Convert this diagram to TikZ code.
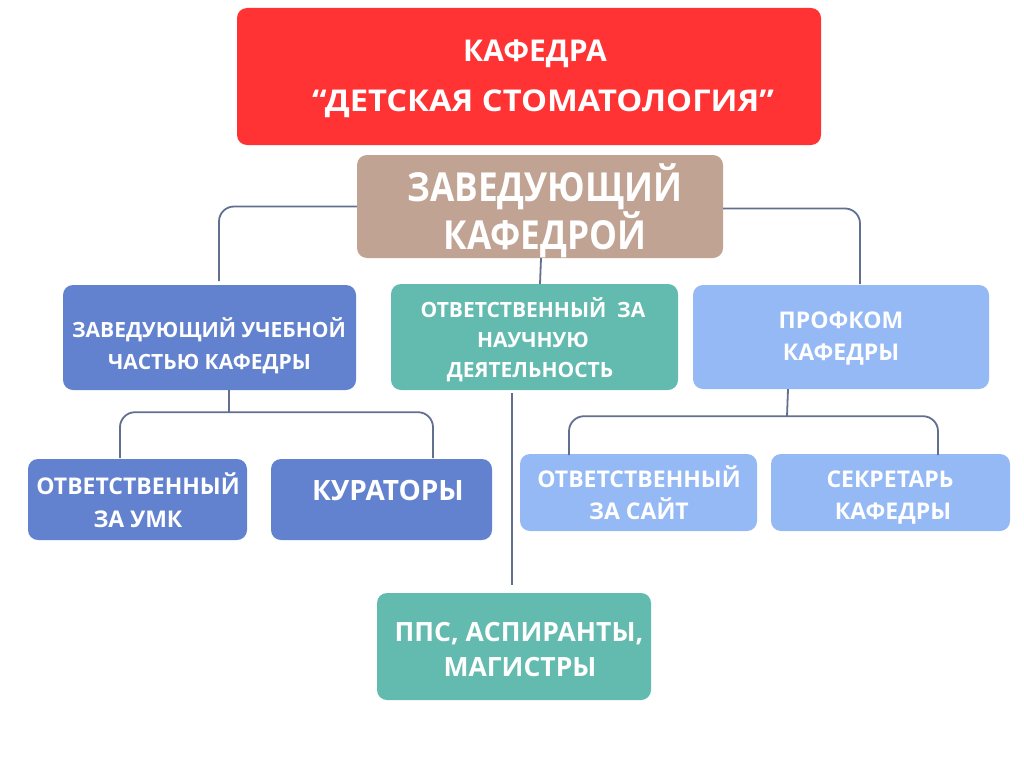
\documentclass[tikz,border=0pt]{standalone}
\usepackage{fontspec}
\setmainfont{Open Sans}[BoldFont={* Bold}]
\newfontfamily\condfont{Open Sans}[BoldFont={* Bold},FakeStretch=0.88]
\newfontfamily\widefont{Open Sans}[BoldFont={* Bold},FakeStretch=1.09]
\usetikzlibrary{calc}
\definecolor{cred}{HTML}{FF3333}
\definecolor{cbrown}{HTML}{C0A393}
\definecolor{cblue}{HTML}{6282CF}
\definecolor{cteal}{HTML}{63BBB0}
\definecolor{clight}{HTML}{95B9F5}
\definecolor{cline}{HTML}{61708F}
\tikzset{
  box/.style={rounded corners=10pt, inner sep=0pt, draw=none},
  conn/.style={draw=cline, line width=1.8pt, rounded corners=15pt},
  lbl/.style={anchor=base, text=white, inner sep=0pt, font=\bfseries\fontsize{21}{25}\selectfont},
  lblm/.style={lbl, font=\bfseries\fontsize{23}{27}\selectfont},
  big/.style={lbl, font=\bfseries\fontsize{30}{36}\selectfont},
}
\newcommand{\mybox}[6]{% name, color, x1, y1, x2, y2
  \node[box, fill=#2, minimum width={(#5-#3)*1pt}, minimum height={(#6-#4)*1pt}] (#1) at ({(#3+#5)/2},{(#4+#6)/2}) {};}
\begin{document}
\begin{tikzpicture}[x=1pt,y=-1pt]
\useasboundingbox (0,0) rectangle (1024,768);
\fill[white] (0,0) rectangle (1024,768);
% boxes
\mybox{head}{cred}{237}{8}{821}{145}
\mybox{chief}{cbrown}{357}{155}{723}{258}
\mybox{study}{cblue}{63}{285}{356}{390}
\mybox{sci}{cteal}{391}{284}{678}{390}
\mybox{prof}{clight}{693}{285}{989}{389}
\mybox{umk}{cblue}{28}{459}{247}{540}
\mybox{cur}{cblue}{271}{459}{492}{540}
\mybox{site}{clight}{520}{454}{757}{531}
\mybox{secr}{clight}{771}{454}{1010}{531}
\mybox{pps}{cteal}{377}{593}{651}{700}
% connector end points
\coordinate (cL) at (219,281);
\coordinate (cR) at (860,284);
\coordinate (cM) at (540,284);
\coordinate (sL) at (120,458);
\coordinate (sR) at (433,458);
\coordinate (pL) at (569,455);
\coordinate (pR) at (938,455);
\coordinate (tTop) at (512,393);
\coordinate (tBot) at (512,585);
% connectors
\draw[conn] (chief.west) -| (cL);
\draw[conn] ($(chief.east)+(0,2)$) -| (cR);
\draw[conn] ($(chief.south)+(1,0)$) -- (cM);
\draw[conn, rounded corners=0pt] ($(study.south)+(19.5,0)$) -- ++(0,22) coordinate (sJ);
\draw[conn] (sJ) -| (sL);
\draw[conn] (sJ) -| (sR);
\draw[conn, rounded corners=0pt] ($(prof.south)+(-53,0)$) -- ++(-1,27) coordinate (pJ);
\draw[conn] (pJ) -| (pL);
\draw[conn] (pJ) -| (pR);
\draw[conn] (tTop) -- (tBot);
% texts
\node[big] (h1) at (535,61) {КАФЕДРА};
\node[big, font=\widefont\bfseries\fontsize{30}{36}\selectfont] (h2) at (543,111) {“ДЕТСКАЯ СТОМАТОЛОГИЯ”};
\node[lbl, font=\condfont\bfseries\fontsize{40}{48}\selectfont] (c1) at (545,201) {ЗАВЕДУЮЩИЙ};
\node[lbl, font=\condfont\bfseries\fontsize{40}{48}\selectfont] (c2) at (545,249) {КАФЕДРОЙ};
\node[lbl] (s1) at (209,337) {ЗАВЕДУЮЩИЙ УЧЕБНОЙ};
\node[lbl] (s2) at (209.5,369) {ЧАСТЬЮ КАФЕДРЫ};
\node[lbl] (n1) at (533,317) {ОТВЕТСТВЕННЫЙ\ \ ЗА};
\node[lbl] (n2) at (533,347) {НАУЧНУЮ};
\node[lbl] (n3) at (530,377) {ДЕЯТЕЛЬНОСТЬ};
\node[lblm] (p1) at (841,328) {ПРОФКОМ};
\node[lblm] (p2) at (841,360) {КАФЕДРЫ};
\node[lblm] (u1) at (138,494) {ОТВЕТСТВЕННЫЙ};
\node[lblm] (u2) at (138,527) {ЗА УМК};
\node[lbl, font=\bfseries\fontsize{28}{32}\selectfont] (k1) at (388,500) {КУРАТОРЫ};
\node[lblm] (w1) at (639,487) {ОТВЕТСТВЕННЫЙ};
\node[lblm] (w2) at (639,519) {ЗА САЙТ};
\node[lblm] (e1) at (890,487) {СЕКРЕТАРЬ};
\node[lblm] (e2) at (893,519) {КАФЕДРЫ};
\node[lbl, font=\bfseries\fontsize{26.5}{30}\selectfont] (q1) at (519,641) {ППС, АСПИРАНТЫ,};
\node[lbl, font=\bfseries\fontsize{26.5}{30}\selectfont] (q2) at (520,676) {МАГИСТРЫ};
\end{tikzpicture}
\end{document}
